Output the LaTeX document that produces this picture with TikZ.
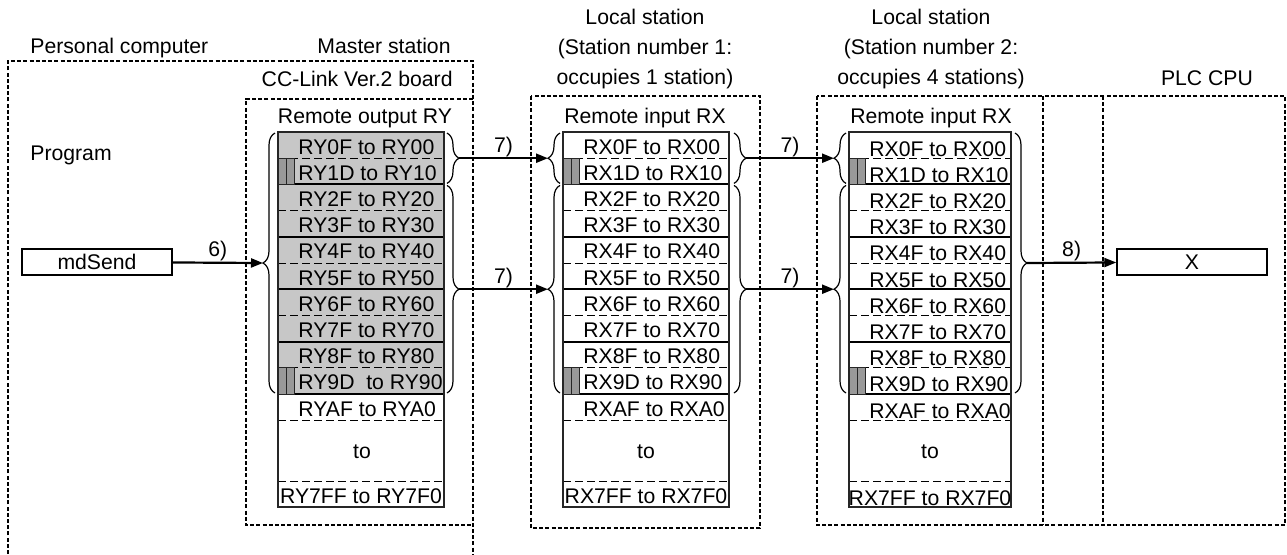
\documentclass[tikz,border=0pt]{standalone}
\usepackage{fontspec}
\setmainfont{Liberation Sans}
\usetikzlibrary{arrows.meta, positioning, decorations.pathreplacing}
\tikzset{
    base/.style = {font=\fontsize{10.6}{15}\selectfont, inner sep=0pt},
    % Frames and tables
    frame/.style    = {line width=1.2pt, dash pattern=on 2pt off 1.1pt},
    tbl/.style      = {draw=black!85, line width=0.7pt},
    solidsep/.style = {line width=1pt},
    dashsep/.style  = {line width=0.5pt, dash pattern=on 4pt off 2pt},
    bar/.style      = {draw=black!85, line width=0.5pt, fill=black!40},
    cell/.style     = {base, anchor=base west},
    title/.style    = {base, anchor=base},
    heading/.style  = {base, anchor=north, align=center},
    box/.style      = {base, draw, line width=0.7pt, minimum width=75pt, minimum height=13pt},
    % Edges and annotations
    brace/.style = {decorate, decoration={brace, amplitude=6pt}, line width=0.6pt},
    arrow/.style = {line width=1.1pt, -{Triangle[length=6pt, width=4.5pt]}},
    tag/.style   = {base, anchor=base, yshift=3pt}
}

\begin{document}
\begin{tikzpicture}[x=0.5pt, y=-0.5pt]
    \useasboundingbox (0,0) rectangle (1287,554);

    % Station frames
    \draw[frame] (8,554) -- (8,61) -- (473,61) -- (473,554);
    \draw[frame] (473,99) -- (246,99) -- (246,525) -- (473,525);
    \draw[frame] (531,96) rectangle (760,528);
    \draw[frame] (817,96) rectangle (1285,525);
    \draw[frame] (1043,96) -- (1043,525);
    \draw[frame] (1103,96) -- (1103,525);

    \node[title, anchor=base west] (pc) at (30,53) {Personal computer};
    \node[title, anchor=base east] (master) at (451,53) {Master station};
    \node[title, anchor=base east] (board) at (453,86) {CC-Link Ver.2 board};
    \node[title, anchor=base west] (prog) at (30,160) {Program};
    \node[heading] (local1) at (645,9) {Local station\\(Station number 1:\\occupies 1 station)};
    \node[heading] (local2) at (931,9) {Local station\\(Station number 2:\\occupies 4 stations)};
    \node[title] (plc) at (1207,85) {PLC CPU};

    % Device tables: rows of 26.2 from y=132
    \foreach \tab/\L/\R/\shade in {ry/278/444/black!22, rx1/563/729/white, rx2/849/1011/white} {
        \fill[\shade] (\L,132) rectangle (\R,394);
        \foreach \k in {1,3,...,11}
            \draw[dashsep] (\L,{132+26.2*\k}) -- (\R,{132+26.2*\k});
        \draw[dashsep] (\L,481) -- (\R,481);
        \foreach \k in {2,4,...,10}
            \draw[solidsep] (\L,{132+26.2*\k}) -- (\R,{132+26.2*\k});
        \foreach \k in {1,9} {
            \draw[bar] (\L,{132+26.2*\k}) rectangle +(8,26.2);
            \draw[bar] (\L+8,{132+26.2*\k}) rectangle +(8,26.2);
        }
        \draw[tbl] (\L,132) rectangle (\R,507);
    }

    \node[title] (ryHead) at (365,123) {Remote output RY};
    \foreach \k/\lbl in {0/RY0F to RY00, 1/RY1D to RY10, 2/RY2F to RY20, 3/RY3F to RY30,
        4/RY4F to RY40, 5/RY5F to RY50, 6/RY6F to RY60, 7/RY7F to RY70,
        8/RY8F to RY80, 9/RY9D~ to RY90, 10/RYAF to RYA0}
        \node[cell] (ry\k) at (298,{154+26.2*\k}) {\lbl};
    \node[title] (ryTo) at (362,458) {to};
    \node[title] (ryEnd) at (361,503) {RY7FF to RY7F0};

    \node[title] (rx1Head) at (645,123) {Remote input RX};
    \foreach \k/\lbl in {0/RX0F to RX00, 1/RX1D to RX10, 2/RX2F to RX20, 3/RX3F to RX30,
        4/RX4F to RX40, 5/RX5F to RX50, 6/RX6F to RX60, 7/RX7F to RX70,
        8/RX8F to RX80, 9/RX9D to RX90, 10/RXAF to RXA0}
        \node[cell] (rx1\k) at (583,{154+26.2*\k}) {\lbl};
    \node[title] (rx1To) at (646,458) {to};
    \node[title] (rx1End) at (646,503) {RX7FF to RX7F0};

    \node[title] (rx2Head) at (931,123) {Remote input RX};
    \foreach \k/\lbl in {0/RX0F to RX00, 1/RX1D to RX10, 2/RX2F to RX20, 3/RX3F to RX30,
        4/RX4F to RX40, 5/RX5F to RX50, 6/RX6F to RX60, 7/RX7F to RX70,
        8/RX8F to RX80, 9/RX9D to RX90, 10/RXAF to RXA0}
        \node[cell] (rx2\k) at (869,{156+26.2*\k}) {\lbl};
    \node[title] (rx2To) at (930,458) {to};
    \node[title] (rx2End) at (930,505) {RX7FF to RX7F0};

    % Braces and their tips
    \draw[brace] (275,393) -- (275,133);   \coordinate (ryIn) at (263,263);
    \draw[brace] (447,133) -- (447,183.4); \coordinate (ryOut1) at (459,158.2);
    \draw[brace] (447,185.4) -- (447,393); \coordinate (ryOut2) at (459,289.2);
    \draw[brace] (560,183.4) -- (560,133); \coordinate (rx1In1) at (548,158.2);
    \draw[brace] (560,393) -- (560,185.4); \coordinate (rx1In2) at (548,289.2);
    \draw[brace] (734,133) -- (734,183.4); \coordinate (rx1Out1) at (746,158.2);
    \draw[brace] (734,185.4) -- (734,393); \coordinate (rx1Out2) at (746,289.2);
    \draw[brace] (846,183.4) -- (846,133); \coordinate (rx2In1) at (834,158.2);
    \draw[brace] (846,393) -- (846,185.4); \coordinate (rx2In2) at (834,289.2);
    \draw[brace] (1015,133) -- (1015,393); \coordinate (rx2Out) at (1027,263);

    \node[box] (send) at (97,262) {mdSend};
    \node[box] (plcX) at (1192,262) {X};

    \draw[arrow] (send) -- (ryIn) node[tag, midway] {6)};
    \draw[arrow] (ryOut1) -- (rx1In1) node[tag, midway] {7)};
    \draw[arrow] (ryOut2) -- (rx1In2) node[tag, midway] {7)};
    \draw[arrow] (rx1Out1) -- (rx2In1) node[tag, midway] {7)};
    \draw[arrow] (rx1Out2) -- (rx2In2) node[tag, midway] {7)};
    \draw[arrow] (rx2Out) -- (plcX) node[tag, midway] {8)};
\end{tikzpicture}
\end{document}
